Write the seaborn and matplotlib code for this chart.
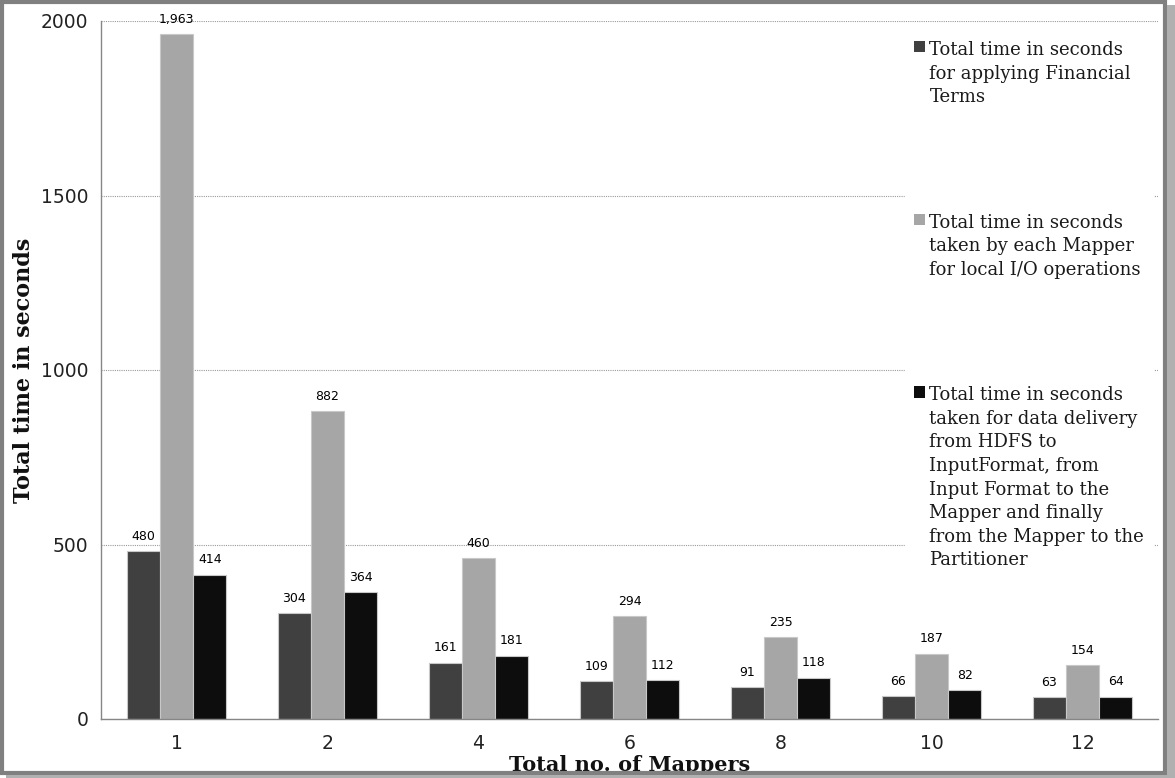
import pandas as pd
import seaborn as sns
import matplotlib.pyplot as plt
from matplotlib.patches import Rectangle

# values
mappers = ['1', '2', '4', '6', '8', '10', '12']
financial_terms = [480, 304, 161, 109, 91, 66, 63]
local_io = [1963, 882, 460, 294, 235, 187, 154]
data_delivery = [414, 364, 181, 112, 118, 82, 64]

series_names = [
    'Total time in seconds\nfor applying Financial\nTerms',
    'Total time in seconds\ntaken by each Mapper\nfor local I/O operations',
    'Total time in seconds\ntaken for data delivery\nfrom HDFS to\nInputFormat, from\n'
    'Input Format to the\nMapper and finally\nfrom the Mapper to the\nPartitioner',
]
colors = ['#404040', '#a6a6a6', '#0d0d0d']

df = pd.DataFrame({
    'Mappers': mappers * 3,
    'Time': financial_terms + local_io + data_delivery,
    'Series': [series_names[0]] * 7 + [series_names[1]] * 7 + [series_names[2]] * 7,
})

sns.set_style('white')
plt.rcParams['font.family'] = ['DejaVu Sans']

fig = plt.figure(figsize=(11.75, 7.78), dpi=100)
ax = fig.add_axes([101 / 1175, 59 / 778, 1057 / 1175, 698 / 778])

sns.barplot(data=df, x='Mappers', y='Time', hue='Series', order=mappers,
            hue_order=series_names, palette=colors, width=0.66,
            edgecolor='#c8c8c8', linewidth=0.8, saturation=1, ax=ax)

for cont in ax.containers:
    ax.bar_label(cont, labels=[f'{int(v):,}' for v in cont.datavalues],
                 padding=6, fontsize=9, color='black')

ax.set_ylim(0, 2000)
ax.set_xlim(-0.5, 6.5)
ax.set_yticks([0, 500, 1000, 1500, 2000])
ax.yaxis.grid(True, linestyle=(0, (1, 1)), color='#9a9a9a', linewidth=0.8)
ax.set_axisbelow(True)

ax.set_xticks([i - 0.5 for i in range(8)], minor=True)
ax.tick_params(axis='x', which='major', length=0, labelsize=13.5, pad=11, colors='#222222')
ax.tick_params(axis='x', which='minor', length=5, width=1, color='#868686', direction='out')
ax.tick_params(axis='y', length=5, width=1, direction='out',
               labelsize=13.5, pad=4, colors='#222222')
ax.tick_params(axis='y', color='#868686')

for s in ['top', 'right']:
    ax.spines[s].set_visible(False)
for s in ['left', 'bottom']:
    ax.spines[s].set_color('#868686')
    ax.spines[s].set_linewidth(1)

ax.set_xlabel('Total no. of Mappers', fontsize=15, fontweight='bold',
              family='DejaVu Serif', labelpad=1, color='#111111')
ax.set_ylabel('Total time in seconds', fontsize=16, fontweight='bold',
              family='DejaVu Serif', labelpad=4, color='#111111')

handles, labels = ax.get_legend_handles_labels()
leg = ax.legend(handles, labels, loc='upper left',
                bbox_to_anchor=(905 / 1175, 1 - 32 / 778), bbox_transform=fig.transFigure,
                frameon=True, facecolor='white', edgecolor='white', framealpha=1,
                fancybox=False, prop={'family': 'DejaVu Serif', 'size': 13},
                handlelength=0.6, handleheight=0.6, handletextpad=0.25,
                labelspacing=5.95, borderpad=0.5, borderaxespad=0)
for t in leg.get_texts():
    t.set_linespacing(1.4)
    t.set_color('#1a1a1a')
for h in leg.legend_handles:
    h.set_edgecolor('none')
# put each legend square next to the first line of its label
for col in leg._legend_handle_box.get_children():
    for row in col.get_children():
        row.align = 'top'

# outer frame with shadow
fig.patches.append(Rectangle((2 / 1175, 5 / 778), 1163 / 1175, 771 / 778,
                             transform=fig.transFigure, fill=False,
                             edgecolor='#808080', linewidth=3))
fig.patches.append(Rectangle((1167 / 1175, 0), 8 / 1175, 773 / 778,
                             transform=fig.transFigure, facecolor='#b0b0b0',
                             edgecolor='none'))
fig.patches.append(Rectangle((6 / 1175, 0), 1169 / 1175, 3 / 778,
                             transform=fig.transFigure, facecolor='#b0b0b0',
                             edgecolor='none'))

fig.savefig('out.png', dpi=100)
